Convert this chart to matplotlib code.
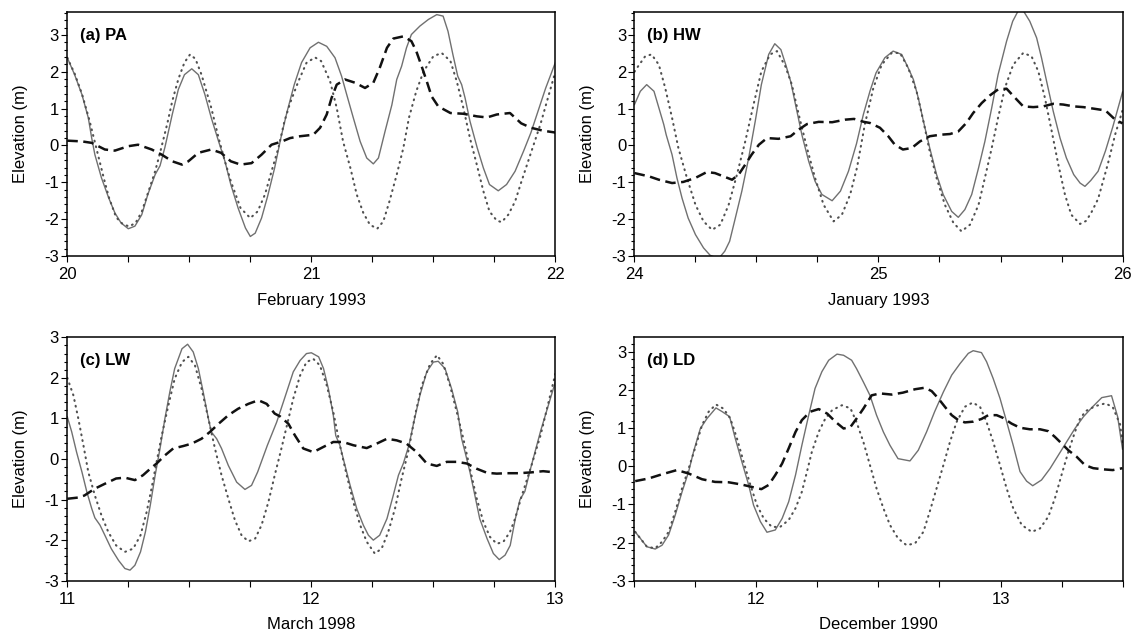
import numpy as np
import matplotlib
matplotlib.use("Agg")
import matplotlib.pyplot as plt
from matplotlib.ticker import MultipleLocator

plt.rcParams['font.family'] = ['Liberation Sans', 'DejaVu Sans']
plt.rcParams['axes.unicode_minus'] = False

# ---- (a) PA, February 1993 ----
pa_t_obs = [20.0, 20.03, 20.06, 20.086, 20.1, 20.113, 20.14, 20.17, 20.195, 20.22, 20.25, 20.277, 20.305,
            20.33, 20.36, 20.38, 20.4, 20.43, 20.455, 20.48, 20.51, 20.537, 20.564, 20.59, 20.62, 20.646,
            20.67, 20.70, 20.73, 20.75, 20.77, 20.796, 20.82, 20.85, 20.875, 20.9, 20.93, 20.96, 20.995,
            21.029, 21.063, 21.097, 21.124, 21.145, 21.172, 21.2, 21.227, 21.254, 21.275, 21.302, 21.33,
            21.35, 21.37, 21.39, 21.41, 21.445, 21.48, 21.514, 21.54, 21.56, 21.58, 21.6, 21.616, 21.63,
            21.65, 21.68, 21.705, 21.73, 21.766, 21.8, 21.835, 21.87, 21.9, 21.93, 21.96, 22.0]
pa_obs = [2.38, 1.92, 1.38, 0.75, 0.2, -0.25, -0.88, -1.43, -1.83, -2.1, -2.26, -2.19, -1.88,
          -1.33, -0.79, -0.55, -0.05, 0.84, 1.52, 1.92, 2.08, 1.92, 1.38, 0.75, 0.11, -0.43,
          -1.06, -1.7, -2.24, -2.47, -2.38, -1.97, -1.4, -0.6, 0.2, 0.9, 1.65, 2.25, 2.65,
          2.8, 2.69, 2.38, 1.88, 1.38, 0.75, 0.11, -0.34, -0.5, -0.34, 0.38, 1.1,
          1.79, 2.15, 2.65, 3.01, 3.24, 3.42, 3.55, 3.51, 3.1, 2.47, 1.88, 1.65, 1.29,
          0.66, -0.07, -0.61, -1.06, -1.23, -1.06, -0.7, -0.15, 0.35, 0.95, 1.55, 2.25]
pa_t_tide = [20.0, 20.03, 20.06, 20.09, 20.12, 20.15, 20.17, 20.2, 20.225, 20.253, 20.28, 20.305, 20.33,
             20.36, 20.38, 20.41, 20.43, 20.455, 20.48, 20.503, 20.525, 20.55, 20.59, 20.62, 20.646,
             20.67, 20.71, 20.75, 20.78, 20.81, 20.837, 20.865, 20.89, 20.913, 20.947, 20.98, 21.015,
             21.04, 21.077, 21.104, 21.13, 21.16, 21.186, 21.213, 21.24, 21.27, 21.295, 21.32, 21.35,
             21.377, 21.4, 21.43, 21.46, 21.5, 21.534, 21.57, 21.596, 21.623, 21.65, 21.678, 21.705,
             21.73, 21.76, 21.78, 21.807, 21.835, 21.86, 21.9, 21.94, 21.97, 22.0]
pa_tide = [2.38, 1.95, 1.4, 0.7, -0.1, -0.9, -1.4, -1.95, -2.12, -2.2, -2.1, -1.8, -1.3,
           -0.7, -0.2, 0.6, 1.2, 1.8, 2.25, 2.47, 2.35, 1.92, 1.02, 0.2, -0.43,
           -0.97, -1.7, -1.97, -1.79, -1.33, -0.7, -0.07, 0.66, 1.15, 1.74, 2.24, 2.39,
           2.29, 1.74, 1.02, 0.11, -0.61, -1.33, -1.83, -2.15, -2.26, -2.06, -1.52, -0.79,
           -0.07, 0.75, 1.47, 2.01, 2.42, 2.51, 2.29, 1.74, 1.02, 0.2, -0.52, -1.24,
           -1.79, -2.04, -2.08, -1.88, -1.52, -1.0, -0.2, 0.6, 1.3, 2.0]
pa_t_res = [20.0, 20.06, 20.1, 20.154, 20.195, 20.25, 20.29, 20.346, 20.387, 20.43, 20.47, 20.496,
            20.537, 20.59, 20.63, 20.67, 20.71, 20.755, 20.796, 20.837, 20.88, 20.913, 20.954,
            21.008, 21.036, 21.063, 21.083, 21.104, 21.138, 21.18, 21.22, 21.254, 21.28, 21.31,
            21.336, 21.377, 21.41, 21.43, 21.452, 21.473, 21.493, 21.52, 21.57, 21.623, 21.678,
            21.72, 21.76, 21.814, 21.86, 21.9, 21.95, 22.0]
pa_res = [0.13, 0.11, 0.07, -0.11, -0.14, -0.02, 0.02, -0.11, -0.25, -0.43, -0.52, -0.43,
          -0.2, -0.11, -0.2, -0.43, -0.52, -0.48, -0.25, 0.02, 0.11, 0.2, 0.25,
          0.29, 0.48, 0.84, 1.29, 1.65, 1.79, 1.7, 1.56, 1.7, 2.1, 2.65,
          2.9, 2.96, 2.83, 2.56, 2.15, 1.74, 1.33, 1.06, 0.88, 0.86, 0.79,
          0.76, 0.84, 0.88, 0.6, 0.48, 0.4, 0.35]

# ---- (b) HW, January 1993 ----
hw_t_obs = [24.0, 24.024, 24.05, 24.08, 24.1, 24.12, 24.13, 24.154, 24.174, 24.195, 24.22, 24.25, 24.283,
            24.31, 24.345, 24.37, 24.39, 24.41, 24.44, 24.468, 24.495, 24.52, 24.55, 24.575, 24.6,
            24.62, 24.64, 24.66, 24.686, 24.714, 24.74, 24.768, 24.81, 24.844, 24.877, 24.91, 24.938,
            24.965, 24.99, 25.026, 25.06, 25.095, 25.122, 25.143, 25.163, 25.184, 25.21, 25.238,
            25.265, 25.3, 25.327, 25.354, 25.382, 25.41, 25.436, 25.464, 25.49, 25.525, 25.55,
            25.573, 25.593, 25.62, 25.648, 25.668, 25.689, 25.716, 25.744, 25.77, 25.8, 25.826,
            25.846, 25.87, 25.9, 25.93, 25.96, 26.0]
hw_obs = [1.11, 1.47, 1.65, 1.47, 1.02, 0.57, 0.29, -0.25, -0.88, -1.43, -1.97, -2.42, -2.78,
          -2.98, -3.07, -2.87, -2.6, -2.06, -1.24, -0.34, 0.66, 1.65, 2.47, 2.76, 2.6,
          2.19, 1.74, 1.11, 0.29, -0.43, -0.97, -1.33, -1.5, -1.24, -0.7, 0.05, 0.84,
          1.47, 1.97, 2.38, 2.56, 2.47, 2.1, 1.79, 1.29, 0.66, -0.07, -0.79,
          -1.33, -1.79, -1.95, -1.74, -1.33, -0.61, 0.11, 1.02, 1.92, 2.83, 3.37,
          3.66, 3.66, 3.37, 2.92, 2.38, 1.74, 0.93, 0.2, -0.34, -0.79, -1.02,
          -1.11, -0.95, -0.7, -0.15, 0.5, 1.45]
hw_t_tide = [24.0, 24.01, 24.044, 24.07, 24.1, 24.126, 24.154, 24.18, 24.215, 24.25, 24.283, 24.318,
             24.352, 24.386, 24.42, 24.454, 24.488, 24.52, 24.556, 24.584, 24.618, 24.645, 24.673,
             24.707, 24.74, 24.775, 24.816, 24.85, 24.884, 24.912, 24.944, 24.979, 25.013, 25.054,
             25.088, 25.122, 25.156, 25.184, 25.21, 25.238, 25.272, 25.307, 25.34, 25.375, 25.41,
             25.436, 25.464, 25.49, 25.518, 25.552, 25.593, 25.627, 25.655, 25.682, 25.71, 25.737,
             25.764, 25.79, 25.826, 25.85, 25.87, 25.9, 25.94, 25.97, 26.0]
hw_tide = [2.0, 2.1, 2.42, 2.47, 2.19, 1.56, 0.75, -0.07, -0.88, -1.61, -2.06, -2.29,
           -2.15, -1.61, -0.79, 0.11, 1.11, 2.01, 2.47, 2.56, 2.15, 1.65, 0.84,
           -0.07, -0.88, -1.61, -2.06, -1.88, -1.33, -0.6, 0.57, 1.56, 2.19, 2.51,
           2.51, 2.1, 1.47, 0.66, -0.16, -0.88, -1.61, -2.1, -2.33, -2.15, -1.61,
           -0.88, -0.07, 0.75, 1.56, 2.19, 2.51, 2.42, 2.01, 1.29, 0.38, -0.52,
           -1.33, -1.88, -2.13, -2.05, -1.85, -1.45, -0.5, 0.3, 0.95]
hw_t_res = [24.0, 24.06, 24.1, 24.154, 24.2, 24.25, 24.297, 24.33, 24.365, 24.4, 24.427, 24.454,
            24.48, 24.51, 24.543, 24.59, 24.64, 24.673, 24.707, 24.755, 24.81, 24.864, 24.9, 24.94,
            24.965, 25.006, 25.04, 25.067, 25.1, 25.136, 25.17, 25.21, 25.252, 25.293, 25.327,
            25.36, 25.388, 25.423, 25.457, 25.49, 25.525, 25.56, 25.593, 25.634, 25.675, 25.716,
            25.757, 25.8, 25.84, 25.88, 25.93, 25.97, 26.0]
hw_res = [-0.75, -0.84, -0.93, -1.02, -0.99, -0.88, -0.72, -0.75, -0.84, -0.93, -0.79, -0.52,
          -0.25, 0.02, 0.2, 0.18, 0.25, 0.43, 0.58, 0.64, 0.63, 0.7, 0.72, 0.64,
          0.61, 0.48, 0.25, 0.02, -0.11, -0.07, 0.11, 0.25, 0.29, 0.31, 0.38,
          0.61, 0.88, 1.15, 1.36, 1.52, 1.54, 1.29, 1.06, 1.04, 1.06, 1.13,
          1.11, 1.06, 1.04, 1.0, 0.95, 0.7, 0.6]

# ---- (c) LW, March 1998 ----
lw_t_obs = [11.0, 11.018, 11.038, 11.06, 11.08, 11.1, 11.113, 11.134, 11.154, 11.18, 11.21, 11.236,
            11.257, 11.277, 11.3, 11.32, 11.34, 11.36, 11.38, 11.4, 11.42, 11.44, 11.47, 11.493,
            11.516, 11.537, 11.557, 11.578, 11.59, 11.612, 11.632, 11.66, 11.694, 11.728, 11.755,
            11.78, 11.82, 11.858, 11.89, 11.926, 11.954, 11.98, 12.0, 12.03, 12.05, 12.07, 12.09,
            12.1, 12.117, 12.138, 12.159, 12.186, 12.213, 12.234, 12.254, 12.28, 12.31, 12.336,
            12.357, 12.377, 12.4, 12.42, 12.445, 12.473, 12.5, 12.52, 12.548, 12.575, 12.6, 12.616,
            12.63, 12.65, 12.67, 12.69, 12.72, 12.746, 12.77, 12.794, 12.815, 12.835, 12.855,
            12.875, 12.9, 12.94, 12.97, 13.0]
lw_obs = [1.04, 0.67, 0.17, -0.32, -0.81, -1.22, -1.45, -1.63, -1.88, -2.21, -2.5, -2.7,
          -2.74, -2.62, -2.29, -1.8, -1.14, -0.4, 0.26, 1.0, 1.65, 2.23, 2.72, 2.83,
          2.64, 2.23, 1.65, 1.0, 0.67, 0.5, 0.26, -0.16, -0.57, -0.75, -0.65,
          -0.32, 0.34, 0.91, 1.49, 2.15, 2.43, 2.6, 2.62, 2.52, 2.23, 1.73, 1.08,
          0.58, 0.34, -0.16, -0.65, -1.22, -1.63, -1.88, -2.0, -1.88, -1.47, -0.89,
          -0.4, -0.11, 0.34, 0.91, 1.57, 2.15, 2.39, 2.41, 2.23, 1.73, 1.16, 0.5,
          0.17, -0.32, -0.89, -1.47, -1.96, -2.33, -2.48, -2.37, -2.13, -1.5, -1.0,
          -0.8, -0.2, 0.7, 1.3, 1.9]
lw_t_tide = [11.0, 11.025, 11.045, 11.066, 11.086, 11.113, 11.14, 11.168, 11.2, 11.236, 11.27, 11.3,
             11.325, 11.345, 11.366, 11.387, 11.414, 11.44, 11.47, 11.496, 11.523, 11.55, 11.578,
             11.605, 11.632, 11.66, 11.687, 11.714, 11.742, 11.77, 11.796, 11.824, 11.85, 11.875,
             11.9, 11.926, 11.954, 11.98, 12.008, 12.035, 12.063, 12.09, 12.117, 12.145, 12.172,
             12.2, 12.227, 12.26, 12.288, 12.315, 12.343, 12.37, 12.4, 12.425, 12.453, 12.487,
             12.515, 12.54, 12.568, 12.596, 12.623, 12.65, 12.678, 12.705, 12.732, 12.76, 12.787,
             12.814, 12.835, 12.86, 12.9, 12.94, 12.97, 13.0]
lw_tide = [2.0, 1.57, 1.0, 0.34, -0.32, -0.9, -1.39, -1.8, -2.13, -2.29, -2.21, -1.88,
           -1.31, -0.73, -0.07, 0.58, 1.32, 1.98, 2.39, 2.52, 2.31, 1.74, 1.0,
           0.26, -0.4, -0.98, -1.51, -1.88, -2.03, -1.96, -1.63, -1.06, -0.4, 0.2,
           0.83, 1.49, 2.06, 2.39, 2.47, 2.31, 1.82, 1.16, 0.34, -0.4, -1.06,
           -1.63, -2.04, -2.33, -2.21, -1.8, -1.22, -0.48, 0.26, 1.08, 1.82, 2.35,
           2.56, 2.35, 1.82, 1.16, 0.5, -0.24, -0.98, -1.55, -1.92, -2.09, -2.04,
           -1.8, -1.47, -0.95, -0.2, 0.6, 1.35, 2.1]
lw_t_res = [11.0, 11.045, 11.07, 11.113, 11.154, 11.2, 11.236, 11.277, 11.31, 11.34, 11.366, 11.4,
            11.434, 11.475, 11.51, 11.55, 11.585, 11.62, 11.66, 11.7, 11.742, 11.783, 11.817, 11.85,
            11.872, 11.906, 11.933, 11.967, 12.008, 12.05, 12.09, 12.13, 12.172, 12.227, 12.268,
            12.31, 12.35, 12.39, 12.432, 12.473, 12.514, 12.555, 12.596, 12.637, 12.678, 12.72,
            12.76, 12.8, 12.85, 12.9, 12.95, 13.0]
lw_res = [-0.98, -0.95, -0.9, -0.73, -0.61, -0.48, -0.46, -0.52, -0.4, -0.24, -0.11, 0.09,
          0.26, 0.32, 0.38, 0.5, 0.67, 0.87, 1.08, 1.24, 1.36, 1.45, 1.36, 1.12,
          1.05, 0.87, 0.58, 0.26, 0.17, 0.3, 0.42, 0.42, 0.34, 0.27, 0.38,
          0.5, 0.46, 0.38, 0.17, -0.11, -0.17, -0.07, -0.07, -0.11, -0.24, -0.34,
          -0.36, -0.35, -0.35, -0.33, -0.3, -0.33]

# ---- (d) LD, December 1990 ----
ld_t_obs = [11.503, 11.524, 11.551, 11.585, 11.613, 11.64, 11.667, 11.695, 11.722, 11.742, 11.77,
            11.797, 11.834, 11.86, 11.89, 11.913, 11.94, 11.968, 11.988, 12.016, 12.043, 12.077,
            12.105, 12.132, 12.16, 12.186, 12.214, 12.24, 12.268, 12.296, 12.33, 12.357, 12.39,
            12.41, 12.438, 12.465, 12.492, 12.52, 12.547, 12.58, 12.629, 12.663, 12.697, 12.73,
            12.766, 12.8, 12.834, 12.868, 12.888, 12.922, 12.943, 12.97, 12.998, 13.025, 13.052,
            13.08, 13.107, 13.132, 13.168, 13.203, 13.237, 13.271, 13.305, 13.34, 13.376, 13.415,
            13.455, 13.48, 13.5]
ld_obs = [-1.72, -1.89, -2.11, -2.17, -2.07, -1.8, -1.28, -0.67, -0.14, 0.38, 0.99,
          1.25, 1.53, 1.43, 1.3, 0.73, 0.12, -0.49, -1.02, -1.45, -1.73, -1.67,
          -1.37, -0.93, -0.23, 0.55, 1.34, 2.04, 2.48, 2.78, 2.94, 2.91, 2.78,
          2.56, 2.21, 1.86, 1.34, 0.9, 0.55, 0.2, 0.14, 0.42, 0.9, 1.43,
          1.95, 2.39, 2.69, 2.96, 3.03, 2.98, 2.74, 2.3, 1.78, 1.17, 0.55,
          -0.14, -0.39, -0.51, -0.36, -0.06, 0.29, 0.64, 0.99, 1.3, 1.55, 1.8,
          1.85, 1.3, 0.45]
ld_t_tide = [11.503, 11.551, 11.585, 11.613, 11.64, 11.667, 11.695, 11.722, 11.75, 11.777, 11.804,
             11.834, 11.865, 11.893, 11.92, 11.947, 11.975, 12.002, 12.03, 12.063, 12.097, 12.132,
             12.16, 12.186, 12.207, 12.227, 12.255, 12.282, 12.31, 12.35, 12.385, 12.41, 12.438,
             12.465, 12.492, 12.52, 12.547, 12.58, 12.615, 12.65, 12.684, 12.71, 12.738, 12.766,
             12.793, 12.82, 12.854, 12.886, 12.916, 12.943, 12.97, 12.998, 13.025, 13.052, 13.087,
             13.128, 13.162, 13.196, 13.223, 13.25, 13.278, 13.305, 13.326, 13.35, 13.39, 13.43,
             13.46, 13.49, 13.5]
ld_tide = [-1.72, -2.11, -2.15, -1.98, -1.72, -1.19, -0.58, -0.06, 0.51, 1.08, 1.43,
           1.62, 1.51, 1.25, 0.73, 0.12, -0.49, -1.02, -1.37, -1.59, -1.59, -1.41,
           -1.1, -0.67, -0.14, 0.38, 0.9, 1.25, 1.47, 1.6, 1.52, 1.16, 0.64,
           0.03, -0.58, -1.1, -1.54, -1.89, -2.07, -2.02, -1.72, -1.19, -0.58, 0.03,
           0.64, 1.16, 1.56, 1.67, 1.56, 1.16, 0.64, 0.03, -0.58, -1.1, -1.54,
           -1.72, -1.63, -1.32, -0.84, -0.23, 0.38, 0.9, 1.25, 1.45, 1.58, 1.65,
           1.55, 1.1, 0.6]
ld_t_res = [11.503, 11.558, 11.613, 11.674, 11.722, 11.777, 11.83, 11.886, 11.94, 11.98, 12.02,
            12.05, 12.077, 12.105, 12.132, 12.16, 12.186, 12.22, 12.255, 12.29, 12.323, 12.357,
            12.385, 12.41, 12.438, 12.472, 12.506, 12.554, 12.6, 12.65, 12.69, 12.718, 12.745,
            12.772, 12.8, 12.827, 12.854, 12.888, 12.922, 12.95, 12.984, 13.01, 13.045, 13.08,
            13.12, 13.162, 13.196, 13.223, 13.25, 13.278, 13.312, 13.346, 13.38, 13.42, 13.46, 13.5]
ld_res = [-0.39, -0.32, -0.21, -0.1, -0.19, -0.34, -0.41, -0.42, -0.48, -0.54, -0.6,
          -0.49, -0.23, 0.07, 0.47, 0.9, 1.21, 1.43, 1.5, 1.38, 1.17, 0.99,
          1.03, 1.25, 1.51, 1.86, 1.91, 1.88, 1.93, 2.02, 2.06, 1.97, 1.78,
          1.56, 1.34, 1.21, 1.15, 1.17, 1.24, 1.34, 1.34, 1.27, 1.12, 1.01,
          0.97, 0.97, 0.92, 0.77, 0.6, 0.42, 0.25, 0.03, -0.05, -0.08, -0.1, -0.05]

panel_titles = ['(a) PA', '(b) HW', '(c) LW', '(d) LD']
month_labels = ['February 1993', 'January 1993', 'March 1998', 'December 1990']


def draw_panel(ax, obs, tide, res, xlim, xticks, ylim, title, xlabel):
    # observed (solid grey), predicted tide (dotted), residual (dashed)
    ax.plot(obs[0], obs[1], color='#707070', lw=1.0, solid_joinstyle='round')
    ax.plot(tide[0], tide[1], color='#505050', lw=1.5, linestyle=(0, (0.4, 2.4)),
            dash_capstyle='round')
    ax.plot(res[0], res[1], color='#111111', lw=1.8, linestyle=(0, (4.2, 2.2)))

    ax.set_xlim(*xlim)
    ax.set_ylim(*ylim)
    ax.set_xticks(xticks)
    ax.set_xticklabels([str(int(v)) for v in xticks])
    ax.xaxis.set_minor_locator(MultipleLocator(0.25))
    ax.set_yticks([-3, -2, -1, 0, 1, 2, 3])
    ax.yaxis.set_minor_locator(MultipleLocator(0.2))

    ax.tick_params(axis='both', which='both', direction='out', width=0.8, labelsize=12)
    ax.tick_params(axis='x', which='both', length=4, pad=4)
    ax.tick_params(axis='y', which='major', length=4, pad=2)
    ax.tick_params(axis='y', which='minor', length=2.5)

    for sp in ax.spines.values():
        sp.set_linewidth(1.1)

    ax.set_ylabel('Elevation (m)', fontsize=12)
    ax.set_xlabel(xlabel, fontsize=12)
    ax.yaxis.set_label_coords(-0.08, 0.5)
    ax.xaxis.set_label_coords(0.5, -0.15)

    ax.text(0.026, 0.905, title, transform=ax.transAxes, fontsize=12, fontweight='bold',
            ha='left', va='center')


fig = plt.figure(figsize=(11.35, 6.37), dpi=100)

ax_a = fig.add_axes([0.0593, 0.5981, 0.430, 0.383])
ax_b = fig.add_axes([0.559, 0.5981, 0.430, 0.383])
ax_c = fig.add_axes([0.0593, 0.0884, 0.430, 0.382])
ax_d = fig.add_axes([0.559, 0.0884, 0.430, 0.382])

draw_panel(ax_a, (pa_t_obs, pa_obs), (pa_t_tide, pa_tide), (pa_t_res, pa_res),
           (20, 22), [20, 21, 22], (-3, 3.62), panel_titles[0], month_labels[0])
draw_panel(ax_b, (hw_t_obs, hw_obs), (hw_t_tide, hw_tide), (hw_t_res, hw_res),
           (24, 26), [24, 25, 26], (-3, 3.62), panel_titles[1], month_labels[1])
draw_panel(ax_c, (lw_t_obs, lw_obs), (lw_t_tide, lw_tide), (lw_t_res, lw_res),
           (11, 13), [11, 12, 13], (-3, 3), panel_titles[2], month_labels[2])
draw_panel(ax_d, (ld_t_obs, ld_obs), (ld_t_tide, ld_tide), (ld_t_res, ld_res),
           (11.5, 13.5), [12, 13], (-3, 3.38), panel_titles[3], month_labels[3])

fig.savefig('out.png', dpi=100)
